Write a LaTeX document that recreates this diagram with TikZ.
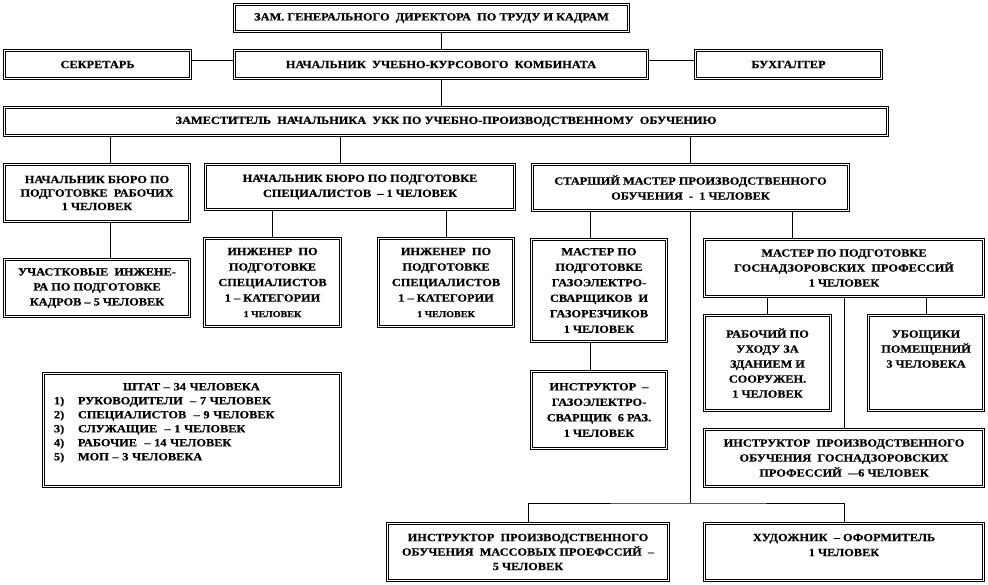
\documentclass[tikz,border=0pt]{standalone}
\usepackage{fontspec}
\setmainfont{Liberation Serif}[FakeStretch=1.12,BoldFeatures={FakeBold=0.6}]
\usepackage{tikz}

\begin{document}
\begin{tikzpicture}[
  x=1pt,y=-1pt,
  font=\bfseries\fontsize{11}{15}\selectfont,
  unit/.style={draw,line width=1.1pt,inner sep=2pt,align=center,
    append after command={\pgfextra{\draw[line width=0.6pt]
      ([shift={(2.8pt,-2.8pt)}]\tikzlastnode.north west) rectangle
      ([shift={(-2.8pt,2.8pt)}]\tikzlastnode.south east);}}},
  link/.style={line width=0.6pt},
]
\useasboundingbox (0,0) rectangle (988,585);
% top levels
\node[unit,minimum width=396pt,minimum height=29pt] (zam) at (431.5,18) {ЗАМ. ГЕНЕРАЛЬНОГО~ ДИРЕКТОРА~ ПО ТРУДУ И КАДРАМ};
\node[unit,minimum width=188pt,minimum height=30pt] (sec) at (97.5,64.5) {СЕКРЕТАРЬ};
\node[unit,minimum width=415pt,minimum height=30pt] (head) at (441,64.5) {НАЧАЛЬНИК~ УЧЕБНО-КУРСОВОГО~ КОМБИНАТА};
\node[unit,minimum width=188pt,minimum height=30pt] (buh) at (788.5,64.5) {БУХГАЛТЕР};
\node[unit,minimum width=885pt,minimum height=30pt] (dep) at (446,121.5) {ЗАМЕСТИТЕЛЬ~ НАЧАЛЬНИКА~ УКК ПО УЧЕБНО-ПРОИЗВОДСТВЕННОМУ~ ОБУЧЕНИЮ};
% bureaus
\node[unit,minimum width=187pt,minimum height=59pt,font=\bfseries\fontsize{11}{13.5}\selectfont] (bw) at (97,193) {НАЧАЛЬНИК БЮРО ПО\\ПОДГОТОВКЕ~ РАБОЧИХ\\1 ЧЕЛОВЕК};
\node[unit,minimum width=311pt,minimum height=47pt] (bs) at (360,187) {НАЧАЛЬНИК БЮРО ПО ПОДГОТОВКЕ\\СПЕЦИАЛИСТОВ~ -- 1 ЧЕЛОВЕК};
\node[unit,minimum width=318pt,minimum height=48pt] (sm) at (690.5,187.5) {СТАРШИЙ МАСТЕР ПРОИЗВОДСТВЕННОГО\\ОБУЧЕНИЯ~ -~ 1 ЧЕЛОВЕК};
\node[unit,minimum width=187pt,minimum height=59pt] (uch) at (97,288) {УЧАСТКОВЫЕ~ ИНЖЕНЕ-\\РА ПО ПОДГОТОВКЕ\\КАДРОВ -- 5 ЧЕЛОВЕК};
\node[unit,minimum width=138pt,minimum height=90pt,font=\bfseries\fontsize{11}{15.5}\selectfont] (ing1) at (272.5,282.5) {ИНЖЕНЕР~ ПО\\ПОДГОТОВКЕ\\СПЕЦИАЛИСТОВ\\1 -- КАТЕГОРИИ\\{\fontsize{9}{9}\selectfont 1 ЧЕЛОВЕК}};
\node[unit,minimum width=137pt,minimum height=90pt,font=\bfseries\fontsize{11}{15.5}\selectfont] (ing2) at (446,282.5) {ИНЖЕНЕР~ ПО\\ПОДГОТОВКЕ\\СПЕЦИАЛИСТОВ\\1 -- КАТЕГОРИИ\\{\fontsize{9}{9}\selectfont 1 ЧЕЛОВЕК}};
\node[unit,minimum width=137pt,minimum height=104pt,font=\bfseries\fontsize{11}{15.5}\selectfont] (mg) at (599,290.5) {МАСТЕР ПО\\ПОДГОТОВКЕ\\ГАЗОЭЛЕКТРО-\\СВАРЩИКОВ~ И\\ГАЗОРЕЗЧИКОВ\\1 ЧЕЛОВЕК};
\node[unit,minimum width=281pt,minimum height=59pt] (mgn) at (844,268) {МАСТЕР ПО ПОДГОТОВКЕ\\ГОСНАДЗОРОВСКИХ~ ПРОФЕССИЙ\\1 ЧЕЛОВЕК};
\node[unit,minimum width=128pt,minimum height=97pt] (rab) at (767.5,363) {РАБОЧИЙ ПО\\УХОДУ ЗА\\ЗДАНИЕМ И\\СООРУЖЕН.\\1 ЧЕЛОВЕК};
\node[unit,minimum width=117pt,minimum height=97pt,text depth=28pt] (ubo) at (926,363) {УБОЩИКИ\\ПОМЕЩЕНИЙ\\3 ЧЕЛОВЕКА};
\node[unit,minimum width=137pt,minimum height=79pt,font=\bfseries\fontsize{11}{15.5}\selectfont] (ig) at (599,410) {ИНСТРУКТОР~ --\\ГАЗОЭЛЕКТРО-\\СВАРЩИК~ 6 РАЗ.\\1 ЧЕЛОВЕК};
\node[unit,minimum width=281pt,minimum height=59pt] (ign) at (844,458) {ИНСТРУКТОР~ ПРОИЗВОДСТВЕННОГО\\ОБУЧЕНИЯ~ ГОСНАДЗОРОВСКИХ\\ПРОФЕССИЙ~ -{}--6 ЧЕЛОВЕК};
\node[unit,minimum width=283pt,minimum height=59pt,font=\bfseries\fontsize{11}{14.5}\selectfont] (im) at (528,552) {ИНСТРУКТОР~ ПРОИЗВОДСТВЕННОГО\\ОБУЧЕНИЯ~ МАССОВЫХ ПРОЕФССИЙ~ --\\5 ЧЕЛОВЕК};
\node[unit,minimum width=281pt,minimum height=59pt,text depth=14pt] (hud) at (844,552) {ХУДОЖНИК~ -- ОФОРМИТЕЛЬ\\1 ЧЕЛОВЕК};
% staff summary
\node[unit,anchor=north,minimum width=299pt,inner xsep=5pt,inner ysep=11pt,text width=288pt,align=left,font=\bfseries\fontsize{11}{14}\selectfont] (shtat) at (192,371.5)
  {\hspace*{75pt}ШТАТ -- 34 ЧЕЛОВЕКА\\
   \hspace*{6pt}\makebox[24pt][l]{1)}РУКОВОДИТЕЛИ~ -- 7 ЧЕЛОВЕК\\
   \hspace*{6pt}\makebox[24pt][l]{2)}СПЕЦИАЛИСТОВ~ -- 9 ЧЕЛОВЕК\\
   \hspace*{6pt}\makebox[24pt][l]{3)}СЛУЖАЩИЕ~ -- 1 ЧЕЛОВЕК\\
   \hspace*{6pt}\makebox[24pt][l]{4)}РАБОЧИЕ~ -- 14 ЧЕЛОВЕК\\
   \hspace*{6pt}\makebox[24pt][l]{5)}МОП -- 3 ЧЕЛОВЕКА\rule[-16pt]{0pt}{16pt}};
% connectors
\path (0,503) coordinate (jy);
\coordinate (j) at (sm.south |- jy);
\draw[link] (head.north) -- (head.north |- zam.south);
\draw[link] ([yshift=4.5pt]sec.east) -- ([yshift=4.5pt]sec.east -| head.west);
\draw[link] ([yshift=4.5pt]head.east) -- ([yshift=4.5pt]head.east -| buh.west);
\draw[link] (head.south) -- (head.south |- dep.north);
\draw[link] ([xshift=13pt]bw.north) -- ([xshift=13pt]bw.north |- dep.south);
\draw[link] ([xshift=-20pt]bs.north) -- ([xshift=-20pt]bs.north |- dep.south);
\draw[link] (sm.north) -- (sm.north |- dep.south);
\draw[link] ([xshift=13pt]bw.south) -- ([xshift=13pt]uch.north);
\draw[link] (ing1.north) -- (ing1.north |- bs.south);
\draw[link] (ing2.north) -- (ing2.north |- bs.south);
\draw[link] ([xshift=-9pt]mg.north) -- ([xshift=-9pt]mg.north |- sm.south);
\draw[link] ([xshift=-52pt]mgn.north) -- ([xshift=-52pt]mgn.north |- sm.south);
\draw[link] ([xshift=-9pt]mg.south) -- ([xshift=-9pt]ig.north);
\draw[link] (rab.north) -- (rab.north |- mgn.south);
\draw[link] (ubo.north) -- (ubo.north |- mgn.south);
\draw[link] (ign.north) -- (ign.north |- mgn.south);
\draw[link] (sm.south) -- (j);
\draw[link] (im.north) |- (j) -| (hud.north);
\end{tikzpicture}
\end{document}
